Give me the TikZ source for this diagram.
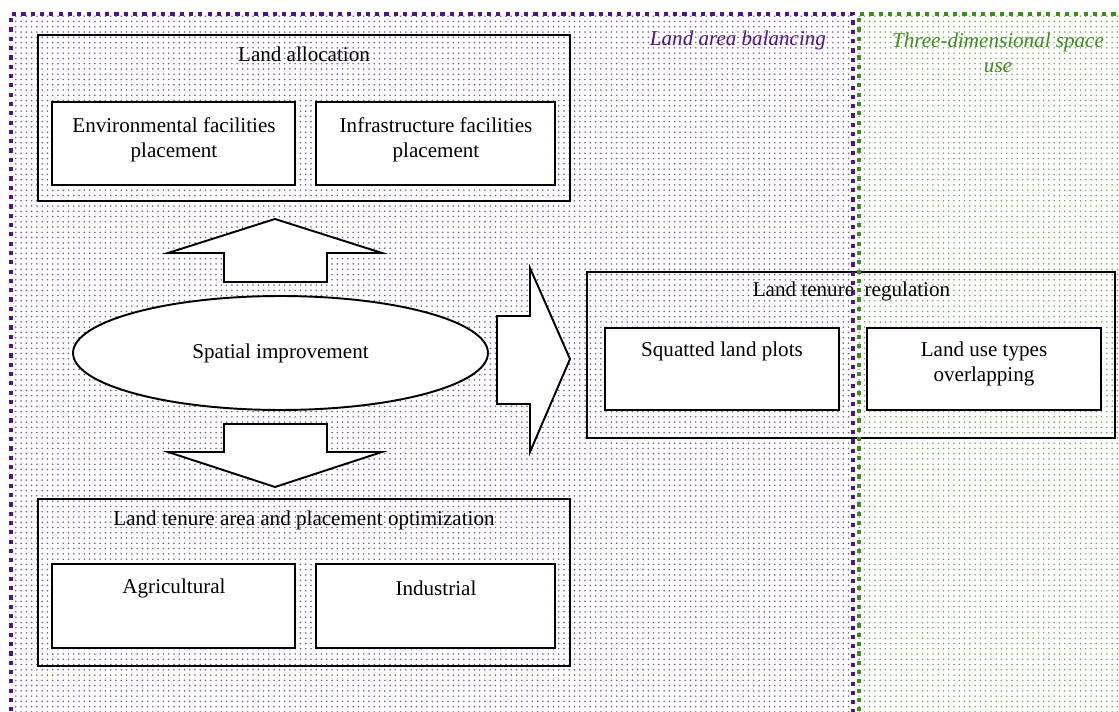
\documentclass[tikz,border=0pt]{standalone}
\usepackage{fontspec}
\setmainfont{Liberation Serif}
\usepackage{xcolor}
\usetikzlibrary{patterns}
\usetikzlibrary{shapes.geometric}
\definecolor{zonepurple}{RGB}{80,20,135}
\definecolor{zonegreen}{RGB}{60,140,30}
\tikzset{>=latex}
\tikzstyle{outerbox} = [draw=black, line width=1pt]
\tikzstyle{innerbox} = [draw=black, fill=white, line width=1.1pt]
\tikzstyle{bigarrow} = [draw=black, fill=white, line width=1.1pt, line join=miter]
\tikzstyle{txt} = [font=\fontsize{12}{14.2}\selectfont, align=center, inner sep=0pt]
\tikzstyle{zoneline} = [line width=2.4pt, dash pattern=on 2.4pt off 2.9pt]

\begin{document}
\begin{tikzpicture}[x=0.02cm, y=-0.02cm]
    \useasboundingbox (0,0) rectangle (1119,712);
    % the two zones
    \fill[pattern=dots, pattern color=zonepurple!75] (11,14) rectangle (853,730);
    \fill[pattern=dots, pattern color=zonegreen!75] (858,14) rectangle (1130,730);

    % land allocation
    \draw[outerbox] (38,35) rectangle (570,201);
    \node[txt] (alloc) at (304,54) {Land allocation};
    \draw[innerbox] (52,102) rectangle (295,185);
    \node[txt] (envfac) at (174,139.5) {Environmental facilities\\placement};
    \draw[innerbox] (316,102) rectangle (555,185);
    \node[txt] (infra) at (436,139.5) {Infrastructure facilities\\placement};

    % spatial improvement and the block arrows
    \node[ellipse, draw, fill=white, line width=1.1pt, minimum width=8.3cm, minimum height=2.28cm, txt] (spatial) at (280.5,353) {Spatial improvement};
    \draw[bigarrow] (275,219) -- (382,253) -- (327,253) -- (327,282) -- (224,282) -- (224,253) -- (168,253) -- cycle;
    \draw[bigarrow] (224,424) -- (327,424) -- (327,452) -- (382,452) -- (275,487) -- (168,452) -- (224,452) -- cycle;
    \draw[bigarrow] (497,316) -- (530,316) -- (530,268) -- (570,359) -- (530,452) -- (530,404) -- (497,404) -- cycle;

    % land tenure area and placement optimization
    \draw[outerbox] (38,499) rectangle (570,666);
    \node[txt] (optim) at (304,520) {Land tenure area and placement optimization};
    \draw[innerbox] (52,564) rectangle (295,648);
    \node[txt] (agri) at (174,588) {Agricultural};
    \draw[innerbox] (316,564) rectangle (555,648);
    \node[txt] (indus) at (436,588) {Industrial};

    % land tenure regulation
    \draw[outerbox] (587,272) rectangle (1115,438);
    \node[txt] (tenure) at (851.5,291) {Land tenure\ \ regulation};
    \draw[innerbox] (605,328) rectangle (839,410);
    \node[txt] (squat) at (722,351) {Squatted land plots};
    \draw[innerbox] (867,328) rectangle (1101,410);
    \node[txt] (overlap) at (984,363.5) {Land use types\\overlapping};

    % zone borders and titles
    \draw[zoneline, zonepurple] (11,730) -- (11,14) -- (853,14) -- (853,730);
    \draw[zoneline, zonegreen] (859,730) -- (859,14) -- (1130,14);
    \node[txt, zonepurple, font=\fontsize{12}{14.2}\selectfont\itshape] (balancing) at (738,40) {Land area balancing};
    \node[txt, zonegreen, font=\fontsize{12}{14.2}\selectfont\itshape] (threed) at (998,52.5) {Three-dimensional space\\use};
\end{tikzpicture}
\end{document}
